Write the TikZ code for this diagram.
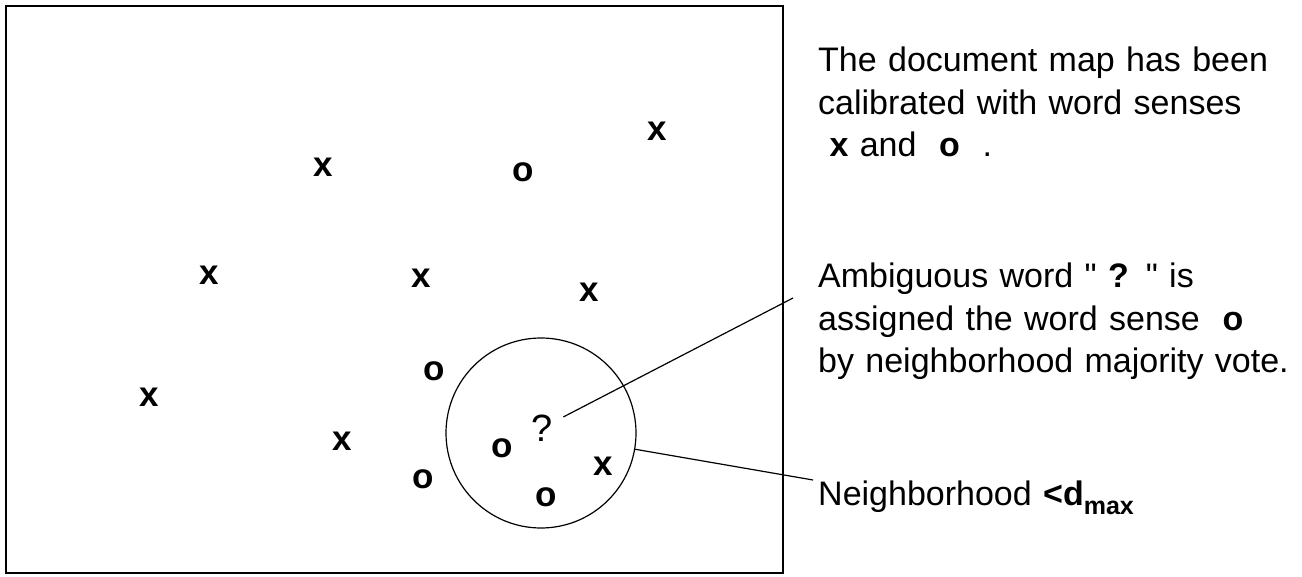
\documentclass[tikz,border=0pt]{standalone}
\usepackage{fontspec}
\setmainfont{Liberation Sans}
\usetikzlibrary{positioning}

\begin{document}
\begin{tikzpicture}[x=1pt,y=-1pt]
    \tikzstyle{every node}=[inner sep=0,font=\fontsize{35}{42.5}\selectfont]
    \tikzstyle{sense}=[font=\fontsize{35}{42.5}\selectfont\bfseries]
    \tikzstyle{note}=[anchor=base west,align=left,text width=484,font=\fontsize{34}{42.5}\selectfont]
    \tikzstyle{hood}=[draw,circle,minimum size=190,line width=1.2]
    \tikzstyle{pointer}=[line width=1.2]
    {
        \useasboundingbox[fill=white] (0,0) rectangle (1302,577);
        \node[draw,line width=1.8,minimum width=777,minimum height=567] (map) at (394.5,289.5) {};

        \node[sense] (x1) at (323,167) {x};
        \node[sense] (o1) at (523,172) {o};
        \node[sense] (x2) at (657,131) {x};
        \node[sense] (x3) at (209,275) {x};
        \node[sense] (x4) at (421,278) {x};
        \node[sense] (x5) at (589,292) {x};
        \node[sense] (o2) at (434,371) {o};
        \node[sense] (x6) at (149,397) {x};
        \node[sense] (x7) at (342,441) {x};
        \node[sense] (o3) at (423,479) {o};
        \node[sense] (o4) at (502,448) {o};
        \node[sense] (x8) at (603,466) {x};
        \node[sense] (o5) at (546,497) {o};
        \node[font=\fontsize{38}{42}\selectfont] (qmark) at (542,428) {?};

        \node[hood] (hood) at (541,433) {};

        \node[note] (calib) at (818,72) {The document map has been\\
            calibrated with word senses\\
            \ \textbf{x} and \ \textbf{o} \ .};
        \node[note] (ambig) at (818,288) {Ambiguous word \textquotedbl\ \textbf{?} \textquotedbl\ is\\
            assigned the word sense \ \textbf{o}\\
            by neighborhood majority vote.};
        \node[note] (radius) at (818,505) {Neighborhood \textbf{<d}\raisebox{-9pt}{\fontsize{25}{25}\selectfont\bfseries max}};

        \coordinate (ambtip) at (793,298);
        \coordinate (hoodtip) at (813,480);

        \path[pointer]
            (qmark) edge[shorten <=12] (ambtip)
            (hood) edge (hoodtip);
    }
\end{tikzpicture}
\end{document}
